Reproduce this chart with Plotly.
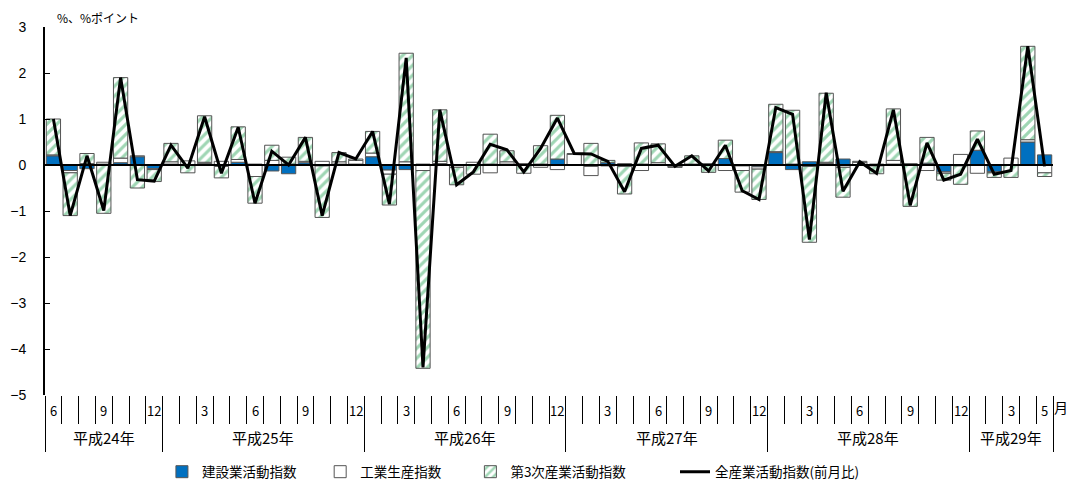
import plotly.graph_objects as go

# ---- data (平成24年6月 〜 平成29年5月) ----
month_labels = ["6", "", "", "9", "", "", "12",
                "", "", "3", "", "", "6", "", "", "9", "", "", "12",
                "", "", "3", "", "", "6", "", "", "9", "", "", "12",
                "", "", "3", "", "", "6", "", "", "9", "", "", "12",
                "", "", "3", "", "", "6", "", "", "9", "", "", "12",
                "", "", "3", "", "5"]
year_labels = ["平成24年", "平成25年", "平成26年", "平成27年", "平成28年", "平成29年"]
year_counts = [7, 12, 12, 12, 12, 5]

construction = [0.20, -0.12, -0.08, 0.02, 0.05, 0.18, -0.08,
                0.02, 0.01, 0.03, -0.03, 0.06, 0.02, -0.13, -0.19, 0.05, -0.02, 0.02, 0.02,
                0.18, -0.11, -0.10, 0.02, 0.03, 0.00, 0.00, 0.02, 0.02, 0.00, 0.02, 0.13,
                0.00, -0.03, 0.05, -0.03, 0.02, 0.00, 0.01, 0.02, 0.00, 0.14, -0.02, -0.04,
                0.27, -0.10, 0.07, 0.03, 0.13, -0.01, -0.02, 0.02, 0.00, 0.04, -0.15, -0.02,
                0.32, -0.15, 0.00, 0.50, 0.22]
industry = [0.02, -0.05, 0.03, 0.04, 0.10, 0.02, -0.02,
            0.05, 0.08, 0.03, 0.08, 0.06, -0.25, 0.10, 0.02, 0.03, 0.08, 0.05, 0.08,
            0.08, -0.09, 0.07, -0.12, 0.05, -0.05, 0.06, -0.17, 0.05, 0.03, -0.05, -0.10,
            0.23, -0.20, -0.02, 0.03, -0.12, 0.05, -0.04, 0.00, 0.03, -0.12, -0.10, -0.05,
            0.02, 0.02, -0.03, 0.03, -0.05, 0.06, 0.02, 0.08, 0.03, -0.12, -0.03, 0.23,
            -0.18, -0.02, 0.15, 0.05, -0.17]
tertiary = [0.78, -0.93, 0.22, -1.05, 1.75, -0.50, -0.26,
            0.40, -0.17, 1.01, -0.25, 0.71, -0.58, 0.33, 0.15, 0.52, -1.12, 0.20, 0.03,
            0.47, -0.67, 2.36, -4.30, 1.12, -0.38, -0.20, 0.65, 0.24, -0.18, 0.40, 0.95,
            0.02, 0.47, 0.05, -0.60, 0.46, 0.41, -0.01, 0.18, -0.16, 0.40, -0.47, -0.66,
            1.03, 1.17, -1.65, 1.50, -0.65, 0.02, -0.17, 1.12, -0.90, 0.56, -0.15, -0.40,
            0.42, -0.10, -0.27, 2.03, -0.08]
all_industry = [1.00, -1.10, 0.20, -0.99, 1.90, -0.32, -0.35,
                0.43, -0.07, 1.05, -0.18, 0.82, -0.83, 0.30, 0.00, 0.60, -1.10, 0.27, 0.13,
                0.73, -0.85, 2.33, -4.40, 1.20, -0.43, -0.15, 0.45, 0.33, -0.15, 0.36, 1.02,
                0.25, 0.24, 0.08, -0.58, 0.36, 0.43, -0.03, 0.20, -0.13, 0.43, -0.56, -0.75,
                1.25, 1.10, -1.62, 1.57, -0.57, 0.07, -0.18, 1.20, -0.88, 0.48, -0.33, -0.20,
                0.56, -0.20, -0.12, 2.58, -0.03]

x = list(range(len(month_labels)))
n = len(x)

JP = "Noto Sans CJK JP"
outline = dict(color="#555555", width=1)

fig = go.Figure()
fig.add_trace(go.Bar(x=x, y=construction, name="建設業活動指数", legend="legend",
                     marker=dict(color="#0070C0", line=outline)))
fig.add_trace(go.Bar(x=x, y=industry, name="工業生産指数", legend="legend2",
                     marker=dict(color="white", line=outline)))
fig.add_trace(go.Bar(x=x, y=tertiary, name="第3次産業活動指数", legend="legend3",
                     marker=dict(color="white", line=outline,
                                 pattern=dict(shape="/", fgcolor="#3fae6a", bgcolor="white",
                                              size=7, solidity=0.45))))
fig.add_trace(go.Scatter(x=x, y=all_industry, name="全産業活動指数(前月比)", mode="lines",
                         legend="legend4", line=dict(color="black", width=3)))

# boundaries for the category table under the plot
boundaries = [i - 0.5 for i in range(n + 1)]
year_bounds = [-0.5]
for c in year_counts:
    year_bounds.append(year_bounds[-1] + c)

leg_common = dict(orientation="h", xanchor="left", y=-0.209, yanchor="middle",
                  font=dict(family=JP, size=13.5), bgcolor="rgba(0,0,0,0)")

fig.update_layout(
    width=1077, height=478,
    margin=dict(l=37, r=32, t=19, b=91, autoexpand=False),
    barmode="relative", bargap=0.15,
    plot_bgcolor="white", paper_bgcolor="white",
    font=dict(family=JP, size=13, color="black"),
    xaxis=dict(range=[-0.5, n - 0.5], tickmode="array", tickvals=boundaries,
               ticks="outside", ticklen=28, tickwidth=1, tickcolor="black", automargin=False,
               showticklabels=False, showgrid=False, zeroline=False, showline=False),
    xaxis2=dict(range=[-0.5, n - 0.5], overlaying="x", anchor="y", side="bottom",
                tickmode="array", tickvals=year_bounds, automargin=False,
                ticks="outside", ticklen=56, tickwidth=1, tickcolor="black",
                showticklabels=False, showgrid=False, zeroline=False, showline=False),
    yaxis=dict(range=[-5, 3], dtick=1, ticks="inside", ticklen=5, tickwidth=1,
               tickcolor="black", showline=True, linewidth=2, linecolor="black",
               showgrid=False, zeroline=False, ticklabelstandoff=14, automargin=False,
               tickfont=dict(family="Liberation Sans", size=14, color="black")),
    legend=dict(x=0.116, **leg_common),
    legend2=dict(x=0.273, **leg_common),
    legend3=dict(x=0.422, **leg_common),
    legend4=dict(x=0.625, **leg_common),
    showlegend=True,
)

# dummy trace to activate xaxis2
fig.add_trace(go.Scatter(x=[], y=[], xaxis="x2", showlegend=False, hoverinfo="skip"))

# zero line above bars
fig.add_shape(type="line", xref="x domain", x0=0, x1=1, yref="y", y0=0, y1=0,
              line=dict(color="black", width=2), layer="above")

# month labels
for i, lab in enumerate(month_labels):
    if lab:
        fig.add_annotation(x=i, xref="x", y=0, yref="paper", yanchor="middle", yshift=-15,
                           text=lab, showarrow=False, font=dict(family=JP, size=13))
# year labels
start = -0.5
for lab, c in zip(year_labels, year_counts):
    fig.add_annotation(x=start + c / 2, xref="x", y=0, yref="paper", yanchor="middle",
                       yshift=-42, text=lab, showarrow=False, font=dict(family=JP, size=15))
    start += c

fig.add_annotation(x=1.017, xref="paper", y=0, yref="paper", yanchor="middle", yshift=-12,
                   text="月", showarrow=False, font=dict(family=JP, size=14))
fig.add_annotation(x=0.010, xref="paper", xanchor="left", y=1, yref="paper", yanchor="middle",
                   yshift=10, text="%、%ポイント", showarrow=False, font=dict(family=JP, size=12))

fig.write_html("out.html")
